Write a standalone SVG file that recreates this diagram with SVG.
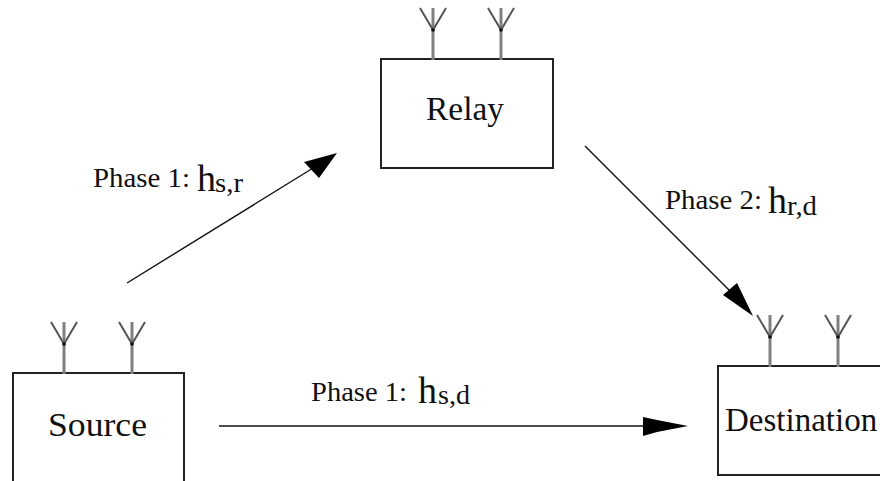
<svg xmlns="http://www.w3.org/2000/svg" width="880" height="481" viewBox="0 0 880 481">
<style>
.box{fill:#fff;stroke:#222;stroke-width:2}
.stem{fill:none;stroke:#808080;stroke-width:3}
.fork{fill:none;stroke:#555;stroke-width:2}
.dot{fill:#111}
.link{stroke:#111;stroke-width:1.400;fill:none}
.head{fill:#000;stroke:none}
text{font-family:"Liberation Serif","Times New Roman",serif;fill:#111}
.name{font-size:34px}
.dest{font-size:33px}
.lab{font-size:28px}
.h{font-size:38px}
.sub{font-size:28px}
</style>
<defs>
<g id="ant">
<path class="stem" d="M0 30V-22"/>
<path class="fork" d="M-13 -22L0 0L13 -22"/>
<circle class="dot" cx="0" cy="0" r="1.800"/>
</g>
</defs>
<rect width="880" height="481" fill="#fff"/>
<g id="connectors">
<path class="link" d="M127 283L318 165"/>
<path class="head" d="M337 153L304 162L311.500 170L319 178Z"/>
<path class="link" d="M585 146L735 296"/>
<path class="head" d="M753 316L737 283L730 289L723 295Z"/>
<path class="link" d="M219 426H650"/>
<path class="head" d="M688 426L657 420L643 417V436L657 432Z"/>
</g>
<g id="relay">
<rect class="box" x="381" y="59" width="172" height="109"/>
<use href="#ant" x="433" y="30"/><use href="#ant" x="501" y="30"/>
<text class="name" x="426" y="120" textLength="78" lengthAdjust="spacingAndGlyphs">Relay</text>
</g>
<g id="source">
<rect class="box" x="13" y="373" width="171" height="120"/>
<use href="#ant" x="64" y="344"/><use href="#ant" x="132" y="344"/>
<text class="name" x="48" y="436" textLength="99" lengthAdjust="spacingAndGlyphs">Source</text>
</g>
<g id="destination">
<rect class="box" x="718" y="366" width="172" height="109"/>
<use href="#ant" x="770" y="337"/><use href="#ant" x="838" y="337"/>
<text class="dest" x="725" y="431">Destination</text>
</g>
<g id="labels">
<text class="lab" x="93" y="187" textLength="97" lengthAdjust="spacingAndGlyphs">Phase 1:</text>
<text class="h" x="197" y="191">h</text>
<text class="sub" x="215" y="192" textLength="28" lengthAdjust="spacingAndGlyphs">s,r</text>
<text class="lab" x="665" y="209" textLength="97" lengthAdjust="spacingAndGlyphs">Phase 2:</text>
<text class="h" x="768" y="213">h</text>
<text class="sub" x="787" y="215" textLength="30" lengthAdjust="spacingAndGlyphs">r,d</text>
<text class="lab" x="311" y="401" textLength="96" lengthAdjust="spacingAndGlyphs">Phase 1:</text>
<text class="h" x="418" y="403">h</text>
<text class="sub" x="438" y="404" textLength="32" lengthAdjust="spacingAndGlyphs">s,d</text>
</g>
</svg>
